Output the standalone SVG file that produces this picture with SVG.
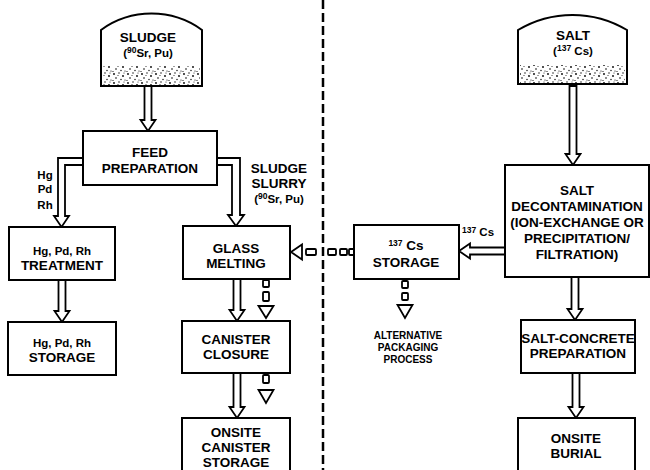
<svg xmlns="http://www.w3.org/2000/svg" width="650" height="470" viewBox="0 0 650 470">
<style>
.box{fill:#fff;stroke:#000;stroke-width:2}
.arr{fill:#fff;stroke:#000;stroke-width:1.8;stroke-linejoin:miter}
.t{font-family:"Liberation Sans",Arial,sans-serif;font-weight:bold;font-size:13.5px;text-anchor:middle;fill:#000}
.s{font-size:11.5px}
.xs{font-size:10px}
.sup{font-size:8.5px}
.div{stroke:#000;stroke-width:2.5;stroke-dasharray:9 4;fill:none}
</style>
<defs>
<pattern id="dots" width="14" height="9" patternUnits="userSpaceOnUse">
<circle cx="2" cy="2" r="0.9"/><circle cx="7" cy="1" r="0.7"/><circle cx="11" cy="4" r="0.9"/><circle cx="4" cy="6" r="0.8"/><circle cx="9" cy="7.5" r="0.7"/><circle cx="13" cy="8" r="0.6"/><circle cx="1" cy="8.5" r="0.6"/><circle cx="6" cy="3.5" r="0.5"/><circle cx="12" cy="1" r="0.5"/>
</pattern>
</defs>
<rect width="650" height="470" fill="#fff"/>

<g id="connectors">
<line class="div" x1="323" y1="0" x2="323" y2="470"/>
<polygon class="arr" points="144.5,86 151.5,86 151.5,120 155.5,120 148,131 140.5,120 144.5,120"/>
<polygon class="arr" points="83,158 58,158 58,216 54,216 61.5,227 69,216 65,216 65,165 83,165"/>
<polygon class="arr" points="217,158 240,158 240,215 244,215 236,226 228,215 232,215 232,165 217,165"/>
<polygon class="arr" points="58.5,280 65.5,280 65.5,311 69.5,311 62,322 54.5,311 58.5,311"/>
<polygon class="arr" points="233.5,279 240.5,279 240.5,310 244.5,310 237,321 229.5,310 233.5,310"/>
<polygon class="arr" points="233.5,373 240.5,373 240.5,407 244.5,407 237,418 229.5,407 233.5,407"/>
<polygon class="arr" points="569.5,86 576.5,86 576.5,154 580.5,154 573,165 565.5,154 569.5,154"/>
<polygon class="arr" points="571.5,277 578.5,277 578.5,309 582.5,309 575,320 567.5,309 571.5,309"/>
<polygon class="arr" points="572.5,373 579.5,373 579.5,407 583.5,407 576,418 568.5,407 572.5,407"/>
<polygon class="arr" points="505,247.5 470,247.5 470,243.5 459,251 470,258.5 470,254.5 505,254.5"/>
<polygon class="arr" points="302,248.5 302,244.5 291,252 302,259.5 302,255.5"/>
<rect class="arr" x="306" y="249" width="10" height="6" rx="1"/>
<rect class="arr" x="328" y="249" width="8" height="6" rx="1"/>
<rect class="arr" x="340" y="249" width="7" height="6" rx="1"/>
<rect class="arr" x="349" y="249" width="5" height="6" rx="1"/>
<rect class="arr" x="263" y="280" width="6" height="7" rx="1"/>
<rect class="arr" x="263" y="292" width="6" height="9" rx="1"/>
<polygon class="arr" points="263,306 269,306 273.5,306 266,318 258.5,306"/>
<rect class="arr" x="263" y="375" width="6" height="8" rx="1"/>
<polygon class="arr" points="263,390 269,390 273.5,390 266,403 258.5,390"/>
<rect class="arr" x="402" y="281" width="6" height="7" rx="1"/>
<rect class="arr" x="402" y="293" width="6" height="7" rx="1"/>
<polygon class="arr" points="402,305 408,305 412.5,305 405,318 397.5,305"/>
</g>

<g id="sludge">
<path class="box" d="M101,30 A86,86 0 0 1 202,30 L202,86 L101,86 Z"/>
<rect x="103" y="66" width="97" height="19" fill="url(#dots)"/>
<text class="t" x="148" y="42">SLUDGE</text>
<text class="t s" x="148" y="57">(<tspan class="sup" dy="-4">90</tspan><tspan dy="4">Sr, Pu)</tspan></text>
</g>

<g id="salt">
<path class="box" d="M518,30 A106,106 0 0 1 627,30 L627,84 L518,84 Z"/>
<rect x="520" y="65" width="105" height="18" fill="url(#dots)"/>
<text class="t" x="573" y="40">SALT</text>
<text class="t s" x="573" y="55">(<tspan class="sup" dy="-4">137</tspan><tspan dy="4"> Cs)</tspan></text>
</g>

<g id="feed">
<rect class="box" x="83" y="131" width="134" height="54"/>
<text class="t" x="150" y="157">FEED</text>
<text class="t" x="150" y="173">PREPARATION</text>
</g>

<g id="labels-hg">
<text class="t s" x="45" y="179">Hg</text>
<text class="t s" x="45" y="193">Pd</text>
<text class="t s" x="45" y="209">Rh</text>
</g>

<g id="slurry-label">
<text class="t" x="279" y="173">SLUDGE</text>
<text class="t" x="279" y="188">SLURRY</text>
<text class="t s" x="279" y="203">(<tspan class="sup" dy="-4">90</tspan><tspan dy="4">Sr, Pu)</tspan></text>
</g>

<g id="treatment">
<rect class="box" x="9" y="227" width="106" height="53"/>
<text class="t s" x="62" y="255">Hg, Pd, Rh</text>
<text class="t" x="62" y="270">TREATMENT</text>
</g>

<g id="hg-storage">
<rect class="box" x="8" y="322" width="108" height="53"/>
<text class="t s" x="62" y="347">Hg, Pd, Rh</text>
<text class="t" x="62" y="362">STORAGE</text>
</g>

<g id="glass">
<rect class="box" x="183" y="226" width="107" height="53"/>
<text class="t" x="236" y="253">GLASS</text>
<text class="t" x="236" y="268">MELTING</text>
</g>

<g id="closure">
<rect class="box" x="182" y="321" width="108" height="52"/>
<text class="t" x="236" y="344">CANISTER</text>
<text class="t" x="236" y="359">CLOSURE</text>
</g>

<g id="onsite-canister">
<rect class="box" x="182" y="418" width="108" height="62"/>
<text class="t" x="236" y="437">ONSITE</text>
<text class="t" x="236" y="452">CANISTER</text>
<text class="t" x="236" y="467">STORAGE</text>
</g>

<g id="cs-storage">
<rect class="box" x="354" y="225" width="105" height="54"/>
<text class="t" x="406" y="250"><tspan class="sup" dy="-4">137</tspan><tspan dy="4"> Cs</tspan></text>
<text class="t" x="406" y="267">STORAGE</text>
</g>

<g id="cs-label">
<text class="t s" x="478" y="236"><tspan class="sup" dy="-3">137</tspan><tspan dy="3"> Cs</tspan></text>
</g>

<g id="alt-label">
<text class="t xs" x="408" y="339">ALTERNATIVE</text>
<text class="t xs" x="408" y="351">PACKAGING</text>
<text class="t xs" x="408" y="363">PROCESS</text>
</g>

<g id="decon">
<rect class="box" x="505" y="165" width="144" height="112"/>
<text class="t" x="577" y="195">SALT</text>
<text class="t" x="577" y="211">DECONTAMINATION</text>
<text class="t" x="577" y="227">(ION-EXCHANGE OR</text>
<text class="t" x="577" y="243">PRECIPITATION/</text>
<text class="t" x="577" y="259">FILTRATION)</text>
</g>

<g id="concrete">
<rect class="box" x="521" y="320" width="114" height="53"/>
<text class="t" x="578" y="343">SALT-CONCRETE</text>
<text class="t" x="578" y="358">PREPARATION</text>
</g>

<g id="burial">
<rect class="box" x="518" y="418" width="117" height="62"/>
<text class="t" x="576" y="443">ONSITE</text>
<text class="t" x="576" y="458">BURIAL</text>
</g>
</svg>
